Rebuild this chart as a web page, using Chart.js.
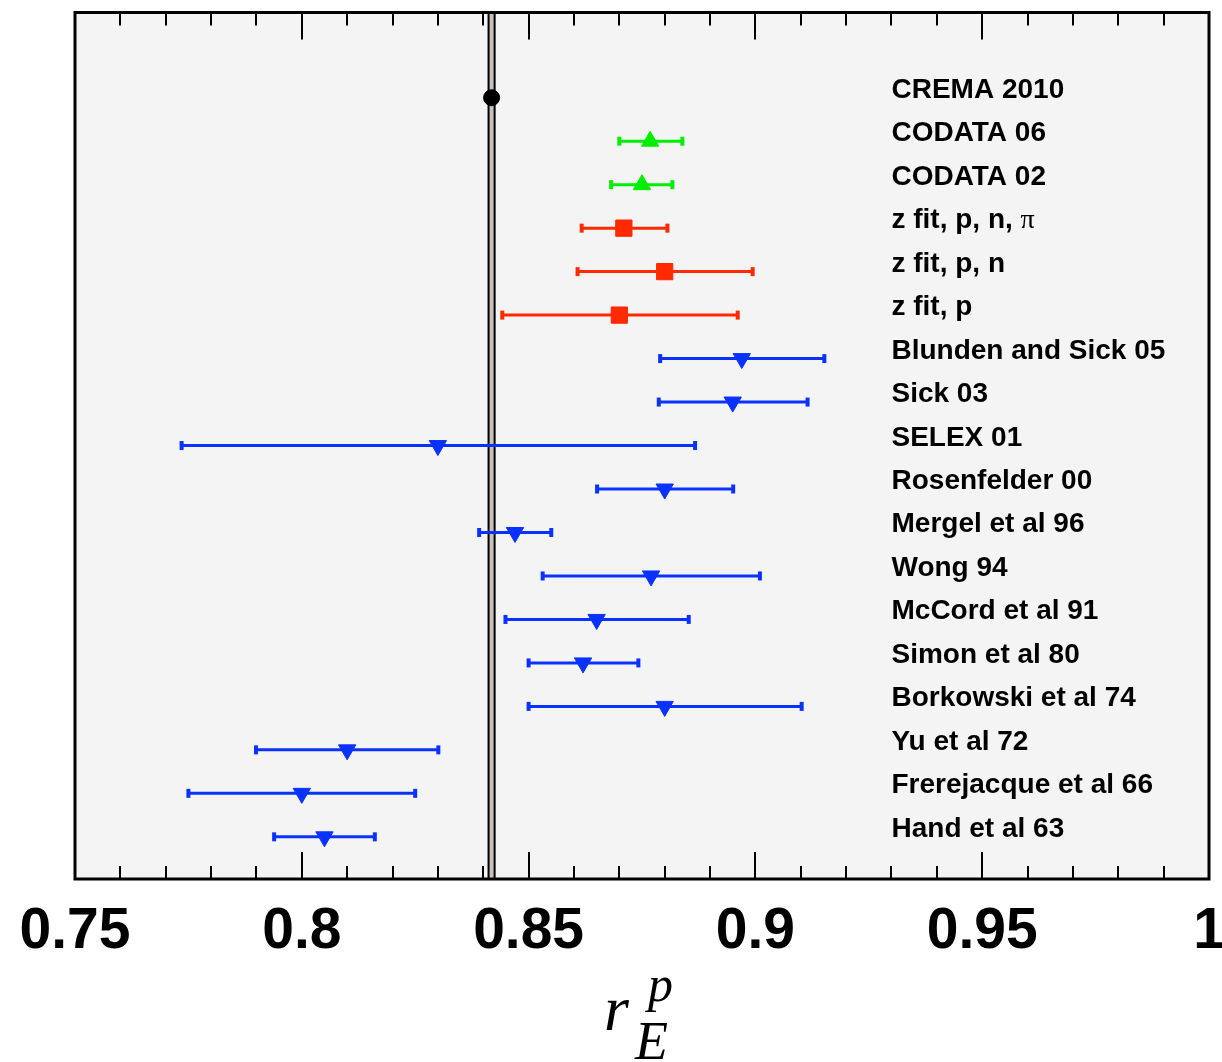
<!DOCTYPE html>
<html>
<head>
<meta charset="utf-8">
<script src="https://cdn.jsdelivr.net/npm/chart.js@4"></script>
<style>
  html, body { margin: 0; padding: 0; background: #ffffff; }
  #chart { display: block; }
</style>
</head>
<body>
<canvas id="chart" width="1222" height="1062"></canvas>
<script>
const names = ['CREMA 2010', 'CODATA 06', 'CODATA 02', 'z fit, p, n, ', 'z fit, p, n', 'z fit, p',
  'Blunden and Sick 05', 'Sick 03', 'SELEX 01', 'Rosenfelder 00', 'Mergel et al 96', 'Wong 94',
  'McCord et al 91', 'Simon et al 80', 'Borkowski et al 74', 'Yu et al 72', 'Frerejacque et al 66', 'Hand et al 63'];
const groups = ['crema', 'codata', 'codata', 'zfit', 'zfit', 'zfit',
  'old', 'old', 'old', 'old', 'old', 'old', 'old', 'old', 'old', 'old', 'old', 'old'];
const rVal  = [0.84184, 0.8768, 0.8750, 0.871, 0.880, 0.870, 0.897, 0.895, 0.830, 0.880, 0.847, 0.877, 0.865, 0.862, 0.880, 0.810, 0.800, 0.805];
const rLow  = [null, 0.8700, 0.8682, 0.8617, 0.8608, 0.8442, 0.8790, 0.8787, 0.7735, 0.8651, 0.8391, 0.8531, 0.8449, 0.8500, 0.8500, 0.7899, 0.7750, 0.7939];
const rHigh = [null, 0.8839, 0.8817, 0.8806, 0.8994, 0.8961, 0.9152, 0.9115, 0.8867, 0.8951, 0.8550, 0.9010, 0.8853, 0.8742, 0.9102, 0.8301, 0.8250, 0.8161];
const cremaBand = [0.84117, 0.84251];
const xTicks = [0.75, 0.8, 0.85, 0.9, 0.95, 1];
const labelX = 0.93;

const colors = { crema: '#000000', codata: '#00ee00', zfit: '#ff2a00', old: '#0a32ff' };

function pointsFor(g) {
  return rVal.map((v, i) => ({ x: v, y: i, i: i })).filter(p => groups[p.i] === g);
}

const datasets = [
  { label: 'crema', data: pointsFor('crema'), pointStyle: 'circle', pointRadius: 8, pointRotation: 0 },
  { label: 'codata', data: pointsFor('codata'), pointStyle: 'triangle', pointRadius: 10, pointRotation: 0 },
  { label: 'zfit', data: pointsFor('zfit'), pointStyle: 'rect', pointRadius: 11.5, pointRotation: 0 },
  { label: 'old', data: pointsFor('old'), pointStyle: 'triangle', pointRadius: 10, pointRotation: 180 }
].map(d => ({
  ...d,
  backgroundColor: colors[d.label],
  borderColor: colors[d.label],
  pointBorderWidth: 1,
  showLine: false
}));

// background, band and error bars under the markers
const underlay = {
  id: 'underlay',
  beforeDatasetsDraw(chart) {
    const { ctx, chartArea: a, scales: { x, y } } = chart;
    ctx.save();
    ctx.fillStyle = '#f4f4f4';
    ctx.fillRect(a.left, a.top, a.right - a.left, a.bottom - a.top);

    // CREMA band
    const b0 = x.getPixelForValue(cremaBand[0]);
    const b1 = x.getPixelForValue(cremaBand[1]);
    ctx.fillStyle = '#c8c0b8';
    ctx.fillRect(b0, a.top, b1 - b0, a.bottom - a.top);
    ctx.strokeStyle = '#000';
    ctx.lineWidth = 2;
    [b0, b1].forEach(px => {
      ctx.beginPath();
      ctx.moveTo(px, a.top);
      ctx.lineTo(px, a.bottom);
      ctx.stroke();
    });

    // error bars
    rVal.forEach((v, i) => {
      if (rLow[i] === null) return;
      const py = y.getPixelForValue(i);
      const lo = x.getPixelForValue(rLow[i]);
      const hi = x.getPixelForValue(rHigh[i]);
      ctx.strokeStyle = colors[groups[i]];
      ctx.lineWidth = 3;
      ctx.beginPath();
      ctx.moveTo(lo, py);
      ctx.lineTo(hi, py);
      ctx.stroke();
      ctx.lineWidth = 4;
      [lo, hi].forEach(px => {
        ctx.beginPath();
        ctx.moveTo(px, py - 4.5);
        ctx.lineTo(px, py + 4.5);
        ctx.stroke();
      });
    });
    ctx.restore();
  },
  afterDatasetsDraw(chart) {
    const { ctx, chartArea: a, scales: { x, y } } = chart;
    ctx.save();

    // ticks inside top and bottom
    ctx.strokeStyle = '#000';
    ctx.lineWidth = 2;
    for (let k = 0; k <= 25; k++) {
      const v = 0.75 + k * 0.01;
      const px = Math.round(x.getPixelForValue(v));
      const len = (k % 5 === 0) ? 27 : 13;
      ctx.beginPath();
      ctx.moveTo(px, a.top);
      ctx.lineTo(px, a.top + len);
      ctx.moveTo(px, a.bottom);
      ctx.lineTo(px, a.bottom - len);
      ctx.stroke();
    }

    // frame
    ctx.lineWidth = 3;
    ctx.strokeRect(a.left, a.top, a.right - a.left, a.bottom - a.top);

    // row labels
    ctx.fillStyle = '#000';
    ctx.textBaseline = 'alphabetic';
    ctx.textAlign = 'left';
    const lx = x.getPixelForValue(labelX);
    names.forEach((n, i) => {
      const py = y.getPixelForValue(i);
      ctx.font = 'bold 28px "Liberation Sans", Arial, sans-serif';
      ctx.fillText(n, lx, py);
      if (i === 3) {
        const w = ctx.measureText(n).width;
        ctx.font = '28px "Liberation Serif", "Times New Roman", serif';
        ctx.fillText('\u03c0', lx + w, py);
      }
    });

    // x tick labels
    ctx.textAlign = 'center';
    ctx.font = 'bold 57px "Liberation Sans", Arial, sans-serif';
    xTicks.forEach(t => {
      ctx.fillText(String(t), x.getPixelForValue(t), a.bottom + 69);
    });

    // axis title r_E^p
    ctx.textAlign = 'left';
    ctx.font = 'italic 64px "Liberation Serif", "Times New Roman", serif';
    ctx.fillText('r', 604, 1030);
    ctx.font = 'italic 50px "Liberation Serif", "Times New Roman", serif';
    ctx.fillText('p', 648, 1001);
    ctx.font = 'italic 54px "Liberation Serif", "Times New Roman", serif';
    ctx.fillText('E', 635, 1059);
    ctx.restore();
  }
};

const ctx = document.getElementById('chart');

const myChart = new Chart(ctx, {
  type: 'scatter',
  data: { datasets: datasets },
  options: {
    responsive: false,
    animation: false,
    events: [],
    layout: { padding: { left: 75, right: 13, top: 11, bottom: 183 } },
    plugins: { legend: { display: false }, tooltip: { enabled: false } },
    scales: {
      x: { type: 'linear', min: 0.75, max: 1.0, display: false },
      y: { type: 'linear', min: -1.96, max: 17.97, reverse: true, display: false }
    }
  },
  plugins: [underlay]
});
</script>
</body>
</html>
